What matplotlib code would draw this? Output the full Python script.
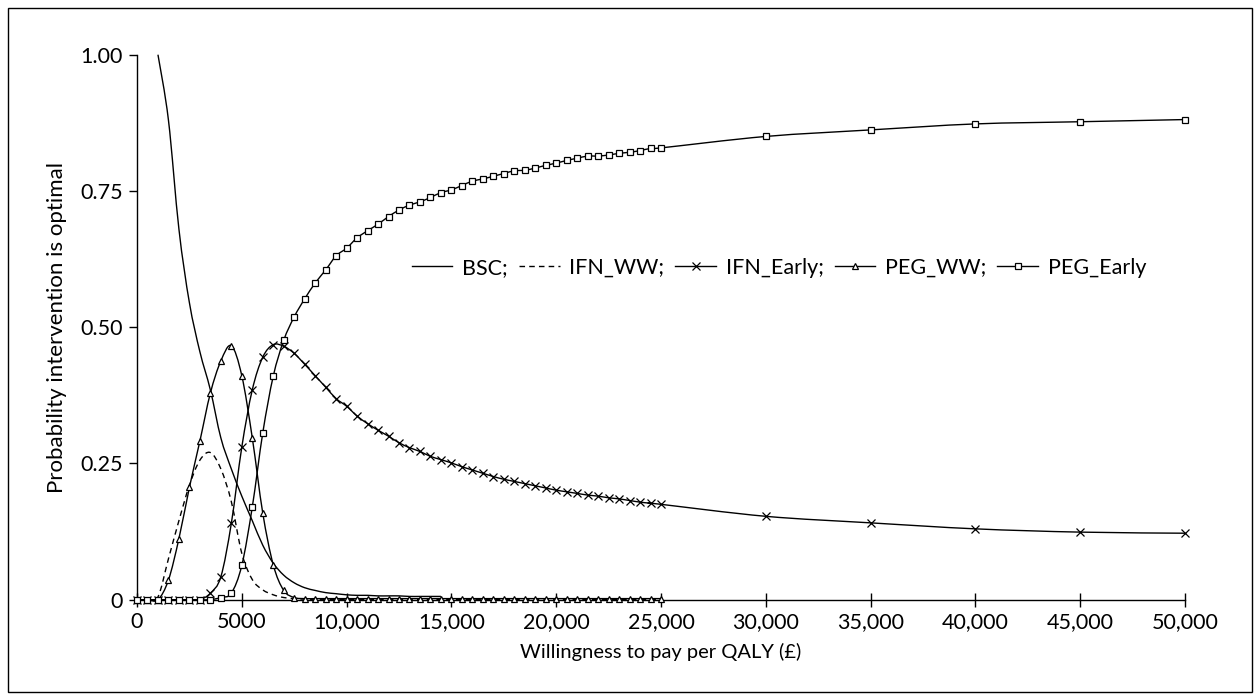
import numpy as np
import matplotlib
matplotlib.use('Agg')
import matplotlib.pyplot as plt
from matplotlib.path import Path
from matplotlib.patches import PathPatch, Rectangle
from matplotlib.lines import Line2D

plt.rcParams['font.family'] = ['Lato', 'DejaVu Sans']

# willingness-to-pay grid (500 steps to 25,000, then 5000 steps)
wtp = list(range(0, 25001, 500)) + [30000, 35000, 40000, 45000, 50000]

bsc_x = list(range(1000, 14501, 500))
bsc = [1.00, 0.88, 0.68, 0.545, 0.455, 0.385, 0.297, 0.24, 0.19, 0.145, 0.10,
       0.067, 0.045, 0.031, 0.022, 0.017, 0.013, 0.011, 0.009, 0.008, 0.008,
       0.007, 0.007, 0.007, 0.006, 0.006, 0.006, 0.006]

ifn_ww_x = list(range(0, 25001, 500))
ifn_ww = [0, 0, 0.005, 0.075, 0.145, 0.21, 0.256, 0.27, 0.24, 0.18, 0.085,
          0.037, 0.018, 0.009, 0.004, 0.002, 0.001] + [0] * 34

ifn_early = [0, 0, 0, 0, 0, 0, 0, 0.012, 0.042, 0.14, 0.28, 0.385, 0.445,
             0.468, 0.465, 0.452, 0.432, 0.411, 0.39, 0.369, 0.355, 0.337,
             0.323, 0.311, 0.30, 0.288, 0.279, 0.272, 0.263, 0.257, 0.251,
             0.244, 0.238, 0.232, 0.226, 0.221, 0.217, 0.213, 0.209, 0.205,
             0.201, 0.198, 0.195, 0.192, 0.190, 0.187, 0.185, 0.182, 0.179,
             0.177, 0.175, 0.153, 0.141, 0.130, 0.124, 0.122]

peg_ww_x = list(range(0, 25001, 500))
peg_ww = [0, 0, 0, 0.036, 0.112, 0.206, 0.291, 0.379, 0.438, 0.466, 0.411,
          0.297, 0.159, 0.064, 0.017, 0.004] + [0.002] * 35

peg_early = [0, 0, 0, 0, 0, 0, 0, 0, 0.004, 0.012, 0.063, 0.17, 0.306, 0.41,
             0.476, 0.519, 0.552, 0.581, 0.605, 0.631, 0.645, 0.664, 0.677,
             0.689, 0.703, 0.715, 0.724, 0.730, 0.738, 0.747, 0.752, 0.760,
             0.768, 0.772, 0.777, 0.782, 0.787, 0.788, 0.792, 0.797, 0.801,
             0.806, 0.810, 0.814, 0.814, 0.816, 0.819, 0.821, 0.824, 0.828,
             0.829, 0.850, 0.862, 0.873, 0.877, 0.881]

xticks = [0, 5000, 10000, 15000, 20000, 25000, 30000, 35000, 40000, 45000, 50000]
xtick_labels = ['0', '5000', '10,000', '15,000', '20,000', '25,000', '30,000',
                '35,000', '40,000', '45,000', '50,000']
yticks = [0, 0.25, 0.5, 0.75, 1.0]
ytick_labels = ['0', '0.25', '0.50', '0.75', '1.00']


def smooth_path(x, y):
    # bezier curve through the points, like a spreadsheet "smoothed line"
    pts = np.column_stack([x, y]).astype(float)
    n = len(pts)
    verts = [pts[0]]
    codes = [Path.MOVETO]
    for i in range(n - 1):
        p0 = pts[max(i - 1, 0)]
        p1 = pts[i]
        p2 = pts[i + 1]
        p3 = pts[min(i + 2, n - 1)]
        verts += [p1 + (p2 - p0) / 6, p2 - (p3 - p1) / 6, p2]
        codes += [Path.CURVE4] * 3
    return Path(verts, codes)


fig = plt.figure(figsize=(12.6, 7), dpi=100)
ax = fig.add_axes([137 / 1260, 1 - 599.7 / 700, 1048 / 1260, 545 / 700])

lw = 1.0
series = [
    (bsc_x, bsc, '-', None, 'BSC;'),
    (ifn_ww_x, ifn_ww, (0, (4, 3)), None, 'IFN_WW;'),
    (wtp, ifn_early, '-', 'x', 'IFN_Early;'),
    (peg_ww_x, peg_ww, '-', '^', 'PEG_WW;'),
    (wtp, peg_early, '-', 's', 'PEG_Early'),
]

handles = []
for x, y, ls, mk, name in series:
    patch = PathPatch(smooth_path(x, y), facecolor='none', edgecolor='black',
                      lw=lw, linestyle=ls, clip_on=False, zorder=2)
    ax.add_patch(patch)
    if mk is not None:
        ax.plot(x, y, linestyle='none', marker=mk, markersize=5 if mk != 'x' else 6,
                markerfacecolor='white', markeredgecolor='black',
                markeredgewidth=0.9, clip_on=False, zorder=3)
    handles.append(Line2D([], [], color='black', lw=lw, linestyle=ls, marker=mk,
                          markersize=5 if mk != 'x' else 6,
                          markerfacecolor='white', markeredgewidth=0.9,
                          label=name))

ax.set_xlim(0, 50000)
ax.set_ylim(0, 1)
ax.spines['top'].set_visible(False)
ax.spines['right'].set_visible(False)
ax.spines['left'].set_linewidth(1.0)
ax.spines['bottom'].set_linewidth(1.0)
ax.set_xticks(xticks)
ax.set_xticklabels(xtick_labels)
ax.set_yticks(yticks)
ax.set_yticklabels(ytick_labels)
ax.tick_params(axis='x', direction='inout', length=10, width=1.0, labelsize=15.5, pad=4)
ax.tick_params(axis='y', direction='out', length=6, width=1.0, labelsize=15.5, pad=4)

ax.set_xlabel('Willingness to pay per QALY (£)', fontsize=14.5, labelpad=8)
ax.set_ylabel('Probability intervention is optimal', fontsize=16, labelpad=10)

ax.legend(handles=handles, loc='center left', bbox_to_anchor=(0.262, 0.609),
          ncol=5, frameon=False, fontsize=15.5, handlelength=1.9,
          handletextpad=0.45, columnspacing=0.5, borderaxespad=0, borderpad=0)

fig.patches.append(Rectangle((8 / 1260, 8 / 700), 1244 / 1260, 684 / 700,
                             transform=fig.transFigure, fill=False,
                             edgecolor='black', lw=1.0))

fig.savefig('out.png', dpi=100)
